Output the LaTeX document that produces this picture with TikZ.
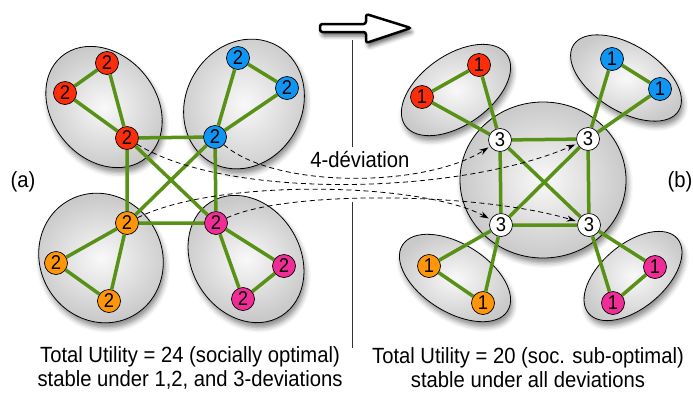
\documentclass[tikz,border=0pt]{standalone}
\usepackage{fontspec}
\setmainfont{Liberation Sans}[FakeStretch=0.92]
\usetikzlibrary{arrows.meta,shadows.blur}
\definecolor{agred}{RGB}{252,45,10}
\definecolor{agblue}{RGB}{15,150,245}
\definecolor{agorange}{RGB}{255,150,10}
\definecolor{agpink}{RGB}{240,45,150}
\definecolor{aggreen}{RGB}{88,145,22}
\begin{document}
\begin{tikzpicture}[x=1pt,y=-1pt,font=\fontsize{22}{24}\selectfont,
  ag/.style={circle,draw=black,line width=0.7pt,minimum size=23pt,inner sep=0pt,font=\fontsize{20}{20}\selectfont},
  lnk/.style={draw=aggreen,line width=3.5pt},
  grp/.style={draw=black,line width=0.8pt,inner color=gray!5,outer color=gray!42,
    blur shadow={shadow xshift=2pt,shadow yshift=-5pt,shadow blur radius=5pt,shadow opacity=45}},
  dev/.style={draw=black,line width=0.8pt,dash pattern=on 5pt off 3.5pt,shorten >=2pt,
    -{Stealth[length=9pt,width=6pt]}}]
\useasboundingbox (0,0) rectangle (693,392);
\draw[line width=2.5pt,fill=white,rounded corners=2.5pt,
  blur shadow={shadow xshift=2pt,shadow yshift=-4pt,shadow blur radius=4pt,shadow opacity=60}]
  (320,24) -- (366,24) -- (366,14) -- (411,28) -- (366,43) -- (366,32) -- (320,32) -- cycle;
\draw[gray!40!black,line width=0.8pt] (352,40) -- (352,147);
\draw[gray!40!black,line width=0.8pt] (352,202) -- (352,348);

\path[grp,rotate around={-50:(104,107)}] (104,107) ellipse (66 and 52);
\path[grp,rotate around={60:(244,104)}] (244,104) ellipse (67 and 58);
\path[grp,rotate around={-60:(101,258)}] (101,258) ellipse (66 and 61);
\path[grp,rotate around={-58:(246,259)}] (246,259) ellipse (67 and 54);
\path[grp] (543,180) ellipse (83 and 78);
\path[grp,rotate around={35:(456,90)}] (456,90) ellipse (62 and 35);
\path[grp,rotate around={-32:(626,78)}] (626,78) ellipse (62 and 33);
\path[grp,rotate around={-32:(455,278)}] (455,278) ellipse (62 and 34);
\path[grp,rotate around={40:(633,276)}] (633,276) ellipse (58 and 32);

\node[ag,fill=agred] (rtop) at (107,63) {2};
\node[ag,fill=agred] (rleft) at (65,93) {2};
\node[ag,fill=agred] (rhub) at (127,138) {2};
\node[ag,fill=agblue] (btop) at (238,58) {2};
\node[ag,fill=agblue] (bright) at (287,88) {2};
\node[ag,fill=agblue] (bhub) at (215,137) {2};
\node[ag,fill=agorange] (ohub) at (127,223) {2};
\node[ag,fill=agorange] (oleft) at (56,263) {2};
\node[ag,fill=agorange] (obot) at (109,301) {2};
\node[ag,fill=agpink] (phub) at (216,223) {2};
\node[ag,fill=agpink] (pright) at (284,266) {2};
\node[ag,fill=agpink] (pbot) at (243,299) {2};

\node[ag,fill=agred] (rtopb) at (479,65) {1};
\node[ag,fill=agred] (rleftb) at (422,97) {1};
\node[ag,fill=agblue] (btopb) at (612,59) {1};
\node[ag,fill=agblue] (brightb) at (660,89) {1};
\node[ag,fill=white] (tl) at (500,140) {3};
\node[ag,fill=white] (tr) at (588,139) {3};
\node[ag,fill=white] (bl) at (501,225) {3};
\node[ag,fill=white] (br) at (589,225) {3};
\node[ag,fill=agorange] (oleftb) at (429,266) {1};
\node[ag,fill=agorange] (obotb) at (483,303) {1};
\node[ag,fill=agpink] (prightb) at (655,267) {1};
\node[ag,fill=agpink] (pbotb) at (613,303) {1};

\draw[lnk] (rtop) -- (rleft) -- (rhub) -- (rtop);
\draw[lnk] (btop) -- (bright) -- (bhub) -- (btop);
\draw[lnk] (ohub) -- (oleft) -- (obot) -- (ohub);
\draw[lnk] (phub) -- (pright) -- (pbot) -- (phub);
\draw[lnk] (rhub) -- (bhub) -- (phub) -- (ohub) -- (rhub);
\draw[lnk] (rhub) -- (phub);
\draw[lnk] (bhub) -- (ohub);

\draw[lnk] (rtopb) -- (rleftb) -- (tl) -- (rtopb);
\draw[lnk] (btopb) -- (brightb) -- (tr) -- (btopb);
\draw[lnk] (oleftb) -- (obotb) -- (bl) -- (oleftb);
\draw[lnk] (prightb) -- (pbotb) -- (br) -- (prightb);
\draw[lnk] (tl) -- (tr) -- (br) -- (bl) -- (tl);
\draw[lnk] (tl) -- (br);
\draw[lnk] (tr) -- (bl);

\draw[dev] (bhub) .. controls +(60,52) and +(-75,48) .. (tl);
\draw[dev] (rhub) .. controls +(100,62) and +(-130,56) .. (tr);
\draw[dev] (ohub) .. controls +(90,-45) and +(-80,-43) .. (bl);
\draw[dev] (phub) .. controls +(70,-33) and +(-110,-33) .. (br);

\node (dv) at (360,160) {4-déviation};
\node (la) at (23,182) {(a)};
\node (lb) at (680,182) {(b)};
\node[align=center] (ta) at (190,368) {Total Utility = 24 (socially optimal)\\stable under 1,2, and 3-deviations};
\node[align=center] (tb) at (528,368) {Total Utility = 20 (soc. sub-optimal)\\stable under all deviations};
\end{tikzpicture}
\end{document}
